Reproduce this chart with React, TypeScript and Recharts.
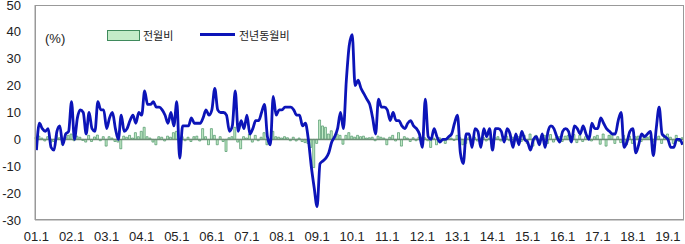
import React from 'react';
import { ComposedChart, Bar, Line, XAxis, YAxis, ReferenceLine } from 'recharts';

// Years on the x axis (tick label = "YY.1")
const years = ['01', '02', '03', '04', '05', '06', '07', '08', '09', '10', '11', '12', '13', '14', '15', '16', '17', '18', '19'];
const lastYearMonths = 6;

// 전년동월비 (year-on-year, %), monthly from 2001.1
const yoy = [
  -4, 6, 4, 3, 4, -3, -4, 3, 5, -2, 2, 3,
  14, 0, 8, 11, 10, 2, 10, 4, 3, 14, 11, 11,
  4, 8, 10, 4, 0, 9, 3, 4, 7, 9, 6, 10,
  9, 18, 13, 13, 14, 12, 12, 11, 9, 6, 10, 5,
  14, -7, 5, 5, 5, 8, 6, 6, 6, 8, 11, 9,
  11, 19, 11, 10, 10, 9, 3, 5, 18, 3, 7, 4,
  9, 2, 4, 7, 7, 10, 13, 1, -2, 16, 9, 11,
  11, 12, 12, 12, 11, 9, 9, 5, 6, 0, -10, -18,
  -25, -9, -8, -7, -5, -1, 1, 4, 10, 4, 22, 35,
  39, 20, 22, 19, 17, 15, 13, 8, 2, 15, 12, 12,
  11, 7, 10, 7, 7, 5, 4, 6, 7, 5, 4, 2,
  -3, 15, 1, 0, 4, 1, -1, 0, 0, 1, 2, 6,
  9, -5, -9, 2, 2, -3, 4, 3, -3, 4, 1, 4,
  -4, 4, 4, 3, -1, 4, 2, -3, 2, -2, 3, 0,
  -1, -4, 0, 1, -2, 2, -3, 3, 5, 4, 1, -1,
  3, 4, 3, -1, 5, 4, 2, 5, 2, 0, 6, 4,
  4, 8, 6, 4, 3, 2, 2, 7, 10, -3, -1, 3,
  4, -5, -2, 2, 1, 2, 3, -6, 4, 12, 2, 1,
  0, -3, -3, 0, 0, -2,
];

// 전월비 (month-on-month, %)
const mom = [
  0.8, 1.2, 0.5, -0.6, 1.0, -1.2, -0.8, 1.5, 0.6, -2.0, 0.8, 1.5,
  2.0, -0.5, 1.2, 0.8, -0.4, -1.0, 1.5, -0.8, 0.9, 1.6, -0.5, 1.0,
  -2.5, 1.0, 0.5, -0.8, -1.0, -3.5, 1.2, 0.8, 1.5, 0.5, 2.5, 1.0,
  3.0, 4.5, 1.0, 0.5, -1.0, -2.0, 1.0, 0.8, -0.6, 1.2, 0.8, 2.5,
  3.0, -1.5, 1.0, -0.5, 0.8, -0.8, 1.0, 1.2, -0.6, 4.0, 1.0, -2.0,
  4.0, 1.5, -2.0, 1.0, -0.8, -4.5, 0.6, 1.0, 4.5, -1.0, -3.5, 1.0,
  0.5, 2.0, -1.0, 1.5, -0.5, 0.8, 2.5, -2.0, -1.5, 3.0, 1.0, 0.8,
  0.5, 1.0, 0.6, -0.5, 0.8, -0.6, 0.5, -0.8, -1.2, -1.5, -3.0, -10.5,
  -1.5, 7.2, 5.0, 4.5, 2.0, 3.2, 1.0, 2.0, 1.5, -1.8, 1.5, 2.5,
  1.2, 0.8, 1.5, 1.0, 1.2, 0.5, 0.6, 0.8, -0.5, 1.2, 0.8, 0.5,
  -2.0, 0.8, 1.5, -0.6, 2.5, -2.5, 1.0, 0.5, -0.8, 0.6, -0.5, 0.8,
  0.8, 0.6, -0.5, -3.0, 0.5, -2.0, 0.6, -0.5, -1.5, 0.8, 0.5, -0.4,
  1.5, 0.6, -2.0, -1.5, 0.6, -0.8, 0.8, -0.6, 0.5, 0.8, -0.6, 0.5,
  -0.8, 0.6, 1.0, -0.6, 0.5, 1.2, -0.5, 0.8, -0.6, 1.0, -0.8, 1.5,
  -1.5, 2.0, -2.5, 1.5, -0.8, 1.0, 1.5, -1.5, 1.8, -1.0, 0.8, 1.0,
  -0.8, 1.2, 1.5, -1.0, 1.8, -1.2, 1.5, -0.8, 1.0, 1.2, -0.6, 1.0,
  1.5, -1.8, 2.0, -2.5, 1.5, 2.0, -1.5, 1.0, -1.2, 1.5, -2.0, 1.2,
  -1.5, 1.0, 1.2, -0.8, 1.5, 0.8, 1.0, -1.0, 0.8, 1.2, -1.5, 1.0,
  2.0, 0.8, -1.5, 1.5, -0.8, 0.6,
];

const yTicks = [-30, -20, -10, 0, 10, 20, 30, 40, 50];

const months: string[] = [];
years.forEach((y, yi) => {
  const n = yi === years.length - 1 ? lastYearMonths : 12;
  for (let m = 1; m <= n; m++) months.push(`${y}.${m}`);
});

const data = months.map((label, i) => ({ label, yoy: yoy[i], mom: mom[i] }));

const tickFont = { fontSize: 13, fill: '#222', fontFamily: 'Liberation Sans, Arial, sans-serif' };
const krFont = "'Noto Sans CJK KR', sans-serif";

export default function App() {
  return (
    <div style={{ position: 'absolute', left: 0, top: 0, width: 685, height: 244, background: '#fff' }}>
      <ComposedChart width={685} height={244} data={data} margin={{ top: 5, right: 1, left: 0, bottom: 0 }} barCategoryGap={0}>
        <XAxis
          dataKey="label"
          interval={11}
          tickLine={false}
          tickSize={0}
          tickMargin={12}
          height={24}
          axisLine={{ stroke: '#999' }}
          tick={tickFont}
        />
        <YAxis
          domain={[-30, 50]}
          ticks={yTicks}
          width={35}
          tickLine={false}
          tickSize={0}
          tickMargin={14}
          axisLine={{ stroke: '#999' }}
          tick={tickFont}
          interval={0}
        />
        <ReferenceLine y={0} stroke="#6f8f78" strokeWidth={1.5} />
        <Bar dataKey="mom" fill="#c4ecc8" stroke="#4a9466" strokeWidth={0.7} barSize={2} isAnimationActive={false} />
        <Line
          type="monotone"
          dataKey="yoy"
          stroke="#0c14b8"
          strokeWidth={2.8}
          dot={false}
          isAnimationActive={false}
        />
      </ComposedChart>
      {/* plot frame */}
      <div style={{ position: 'absolute', left: 35, top: 5, width: 649, height: 215, border: '1px solid #999', boxSizing: 'border-box', pointerEvents: 'none' }} />
      {/* legend */}
      <div style={{ position: 'absolute', left: 45, top: 31, fontSize: 13, fontFamily: 'Liberation Sans, Arial, sans-serif', color: '#222' }}>(%)</div>
      <div style={{ position: 'absolute', left: 107, top: 30, width: 31, height: 9, background: '#c4ecc8', border: '1px solid #3f8a5c' }} />
      <div style={{ position: 'absolute', left: 143, top: 27, fontSize: 11, fontFamily: krFont, color: '#222' }}>전월비</div>
      <div style={{ position: 'absolute', left: 200, top: 33, width: 35, height: 3, background: '#0c14b8' }} />
      <div style={{ position: 'absolute', left: 239, top: 27, fontSize: 11, fontFamily: krFont, color: '#222' }}>전년동월비</div>
    </div>
  );
}
